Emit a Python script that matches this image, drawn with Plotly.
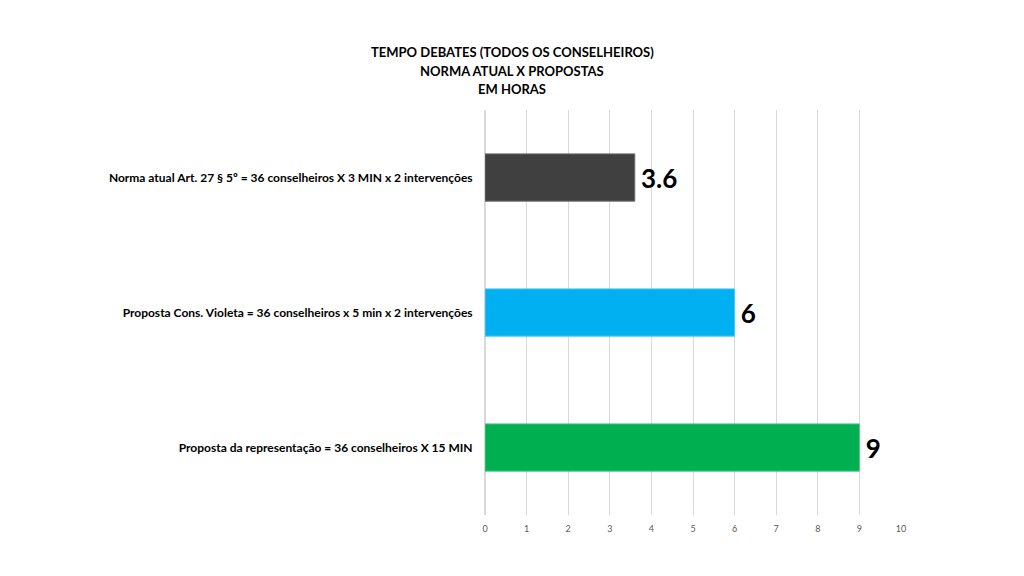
import plotly.graph_objects as go

title_lines = [
    "TEMPO DEBATES (TODOS OS CONSELHEIROS)",
    "NORMA ATUAL X PROPOSTAS",
    "EM HORAS",
]
categories = [
    "Norma atual Art. 27 § 5º = 36 conselheiros X 3 MIN x 2 intervenções",
    "Proposta Cons. Violeta = 36 conselheiros x 5 min x 2 intervenções",
    "Proposta da representação = 36 conselheiros X 15 MIN",
]
hours = [3.6, 6, 9]
bar_colors = ["#404040", "#00B0F0", "#00B050"]
edge_colors = ["#6a6a6a", "#4cc8f4", "#4cc884"]

fig = go.Figure()
fig.add_trace(go.Bar(
    y=categories, x=hours, orientation="h",
    marker=dict(color=bar_colors, line=dict(color=edge_colors, width=1)),
    text=["<b>\u2009" + str(v) + "</b>" for v in hours], textposition="outside", cliponaxis=False,
    textfont=dict(family="Lato", size=26, color="#000000"),
    width=0.35,
))

# title as three stacked lines, centred on the page
for i, line in enumerate(title_lines):
    fig.add_annotation(
        text="<b>" + line + "</b>", xref="paper", yref="paper",
        x=(512 - 485) / 416, xanchor="center", yanchor="middle",
        y=1 + (110 - (52 + i * 18.5)) / 405,
        showarrow=False, font=dict(family="Lato", size=13, color="#000000"),
    )

fig.update_layout(
    width=1024, height=576,
    margin=dict(l=477, r=131, t=102, b=69),
    plot_bgcolor="white", paper_bgcolor="white",
    font=dict(family="Lato", color="#000000"),
    showlegend=False,
    bargap=0.65,
)
fig.update_xaxes(
    range=[0, 10], dtick=1, showgrid=True, gridcolor="#d9d9d9", gridwidth=1,
    zeroline=True, zerolinecolor="#d9d9d9", showline=False,
    tickfont=dict(family="Lato", size=9, color="#595959"),
    ticks="outside", ticklen=5, tickcolor="rgba(0,0,0,0)",
)
fig.update_yaxes(
    categoryorder="array", categoryarray=categories[::-1],
    showgrid=False, showline=False, zeroline=False,
    tickfont=dict(family="Lato", size=12, color="#000000"),
    ticks="outside", ticklen=9, tickcolor="rgba(0,0,0,0)",
    tickprefix="<b>", ticksuffix="</b>",
)
fig.write_html("out.html")
